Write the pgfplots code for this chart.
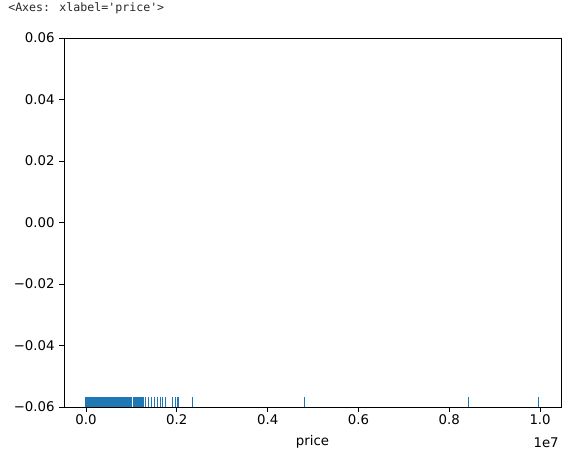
\documentclass[border=0pt]{standalone}
\usepackage{pgfplots}
\pgfplotsset{compat=1.18}
\usepackage{fontspec}
\setmainfont{DejaVu Sans}
\newfontfamily\monofont{DejaVu Sans Mono}
\definecolor{mplblue}{HTML}{1F77B4}
\begin{document}
\begin{tikzpicture}
\useasboundingbox (0pt,0pt) rectangle (433.5pt,346.5pt);
\node[anchor=base west,inner sep=0pt,font=\monofont\fontsize{8.7}{10}\selectfont,text=black!85] at (6pt,338pt) {<Axes: xlabel='price'>};
\begin{axis}[
  at={(48pt,41.25pt)}, anchor=south west,
  scale only axis, width=372.75pt, height=276.75pt,
  xmin=-485000, xmax=10460000,
  ymin=-0.06, ymax=0.06,
  scaled ticks=false,
  xtick={0,2000000,4000000,6000000,8000000,10000000},
  xticklabels={0.0,0.2,0.4,0.6,0.8,1.0},
  ytick={-0.06,-0.04,-0.02,0,0.02,0.04,0.06},
  yticklabels={−0.06,−0.04,−0.02,0.00,0.02,0.04,0.06},
  tick align=outside, tick pos=left,
  major tick length=3.5pt,
  every tick/.style={black, line width=0.6pt},
  axis line style={line width=0.6pt},
  tick label style={font=\fontsize{10}{12}\selectfont},
  xticklabel style={yshift=1pt},
  xlabel={price}, xlabel style={font=\fontsize{10}{12}\selectfont, yshift=-0.5pt},
  /pgf/number format/assume math mode=true,
  clip=false,
]
\addplot[only marks, mark=|, mark size=3.75pt, mark options={line width=0.8pt, mplblue}, draw=mplblue] coordinates {
(0,-0.05837) (20000,-0.05837) (40000,-0.05837) (60000,-0.05837) (80000,-0.05837)
(100000,-0.05837) (120000,-0.05837) (140000,-0.05837) (160000,-0.05837) (180000,-0.05837)
(200000,-0.05837) (220000,-0.05837) (240000,-0.05837) (260000,-0.05837) (280000,-0.05837)
(300000,-0.05837) (320000,-0.05837) (340000,-0.05837) (360000,-0.05837) (380000,-0.05837)
(400000,-0.05837) (420000,-0.05837) (440000,-0.05837) (460000,-0.05837) (480000,-0.05837)
(500000,-0.05837) (520000,-0.05837) (540000,-0.05837) (560000,-0.05837) (580000,-0.05837)
(600000,-0.05837) (620000,-0.05837) (640000,-0.05837) (660000,-0.05837) (680000,-0.05837)
(700000,-0.05837) (720000,-0.05837) (740000,-0.05837) (760000,-0.05837) (780000,-0.05837)
(800000,-0.05837) (820000,-0.05837) (840000,-0.05837) (860000,-0.05837) (880000,-0.05837)
(900000,-0.05837) (920000,-0.05837) (940000,-0.05837) (960000,-0.05837) (980000,-0.05837)
(1000000,-0.05837) (1050000,-0.05837) (1075000,-0.05837) (1100000,-0.05837) (1125000,-0.05837)
(1150000,-0.05837) (1175000,-0.05837) (1200000,-0.05837) (1225000,-0.05837) (1250000,-0.05837)
(1275000,-0.05837) (1300000,-0.05837)
(1377000,-0.05837) (1432000,-0.05837) (1498000,-0.05837) (1564000,-0.05837) (1630000,-0.05837)
(1685000,-0.05837) (1751000,-0.05837) (1905000,-0.05837) (1971000,-0.05837) (2026000,-0.05837)
(2350000,-0.05837) (4808000,-0.05837) (8421000,-0.05837) (9963000,-0.05837)
};
\node[anchor=north east,inner sep=0pt,font=\fontsize{10}{12}\selectfont] at (rel axis cs:1,0) [yshift=-23pt,xshift=-1.5pt] {1e7};
\end{axis}
\end{tikzpicture}
\end{document}
